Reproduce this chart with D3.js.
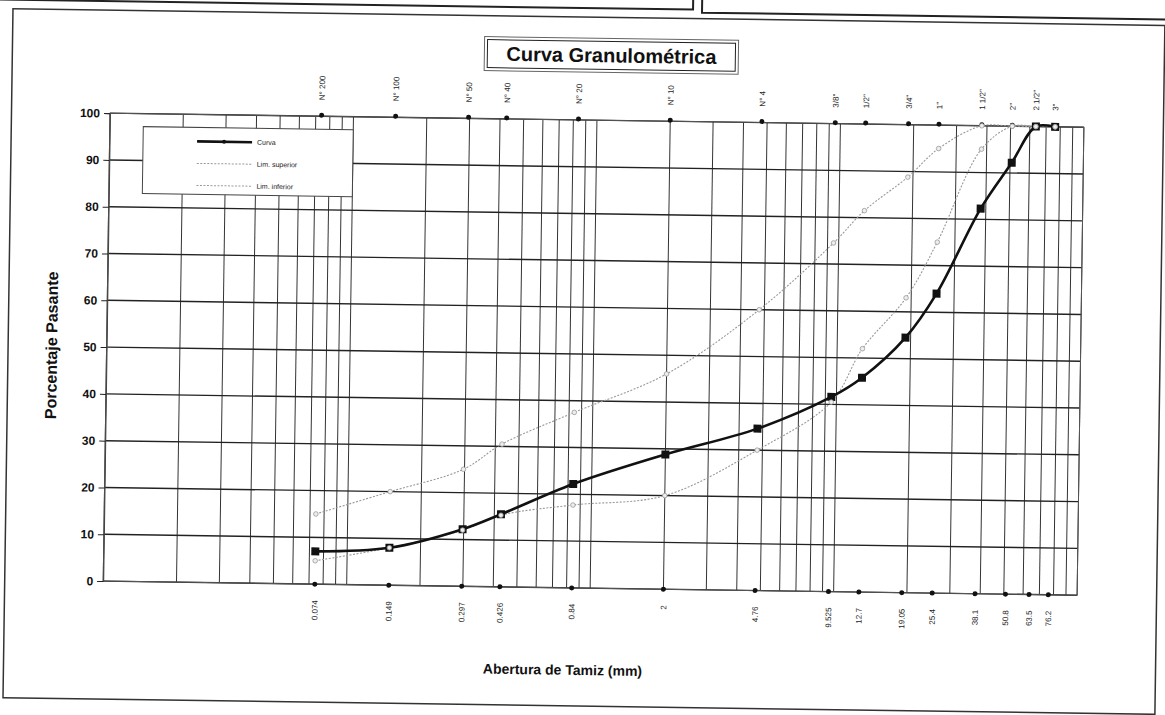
<!DOCTYPE html>
<html>
<head>
<meta charset="utf-8">
<script src="https://cdn.jsdelivr.net/npm/d3@7"></script>
<style>
  body { margin: 0; background: #fff; }
  svg { display: block; font-family: "Liberation Sans", Arial, sans-serif; }
</style>
</head>
<body>
<svg width="1165" height="715"></svg>
<script>
var sieveNames = ["N° 200", "N° 100", "N° 50", "N° 40", "N° 20", "N° 10", "N° 4", "3/8\"", "1/2\"", "3/4\"", "1\"", "1 1/2\"", "2\"", "2 1/2\"", "3\""];
var sieveSizes = [0.074, 0.149, 0.297, 0.426, 0.84, 2, 4.76, 9.525, 12.7, 19.05, 25.4, 38.1, 50.8, 63.5, 76.2];
var sizeLabels = ["0.074", "0.149", "0.297", "0.426", "0.84", "2", "4.76", "9.525", "12.7", "19.05", "25.4", "38.1", "50.8", "63.5", "76.2"];
var curva = [7, 8, 12.2, 15.5, 22.2, 28.8, 34.6, 41.6, 45.8, 54.5, 64, 82.3, 92.2, 100, 100];
var limSuperior = [15, 20, 25, 30.5, 37.5, 46, 60, 74.5, 81.5, 88.8, 95, 100, 100, 100, 100];
var limInferior = [5, 8, 12, 15.3, 17.7, 20, 30, 40.5, 52, 63, 75, 95, 100, 100, 100];
var yTicks = [0, 10, 20, 30, 40, 50, 60, 70, 80, 90, 100];
var legendNames = ["Curva", "Lim. superior", "Lim. inferior"];

var svg = d3.select("svg");
svg.append("rect").attr("width", 1165).attr("height", 715).attr("fill", "#fff");

// the scanned page is slightly tilted
var page = svg.append("g").attr("transform", "rotate(0.83,582,357)");

var x = d3.scaleLog().domain([0.01, 100]).range([106.5, 1080.5]),
    y = d3.scaleLinear().domain([0, 100]).range([588, 120]);

// form frame
page.append("rect").attr("x", 8).attr("y", 17).attr("width", 1152).attr("height", 689)
  .attr("fill", "none").attr("stroke", "#333").attr("stroke-width", 1.5);
page.append("path").attr("d", "M-10,8H688V-10").attr("fill", "none").attr("stroke", "#222").attr("stroke-width", 2);
page.append("path").attr("d", "M697,-10V11H1180").attr("fill", "none").attr("stroke", "#222").attr("stroke-width", 2);

// grid
var grid = page.append("g");
grid.selectAll(".vline").data(x.ticks()).enter().append("line")
  .attr("x1", function(d) { return x(d); }).attr("x2", function(d) { return x(d); })
  .attr("y1", y(100)).attr("y2", y(0))
  .attr("stroke", "#333").attr("stroke-width", 1);
grid.selectAll(".hline").data(yTicks).enter().append("line")
  .attr("x1", x(0.01)).attr("x2", x(100))
  .attr("y1", function(d) { return y(d); }).attr("y2", function(d) { return y(d); })
  .attr("stroke", "#222").attr("stroke-width", 1.4);
page.append("rect").attr("x", x(0.01)).attr("y", y(100))
  .attr("width", x(100) - x(0.01)).attr("height", y(0) - y(100))
  .attr("fill", "none").attr("stroke", "#555").attr("stroke-width", 1);

var yAxis = page.append("g").attr("transform", "translate(" + x(0.01) + ",0)")
  .call(d3.axisLeft(y).tickValues(yTicks).tickSize(6).tickPadding(4));
yAxis.select(".domain").attr("stroke", "#444");
yAxis.selectAll(".tick line").attr("stroke", "#222");
yAxis.selectAll("text").attr("font-size", 12).attr("font-weight", "bold").attr("fill", "#111");

// sieve dots and labels, top and bottom
page.selectAll(".topdot").data(sieveSizes).enter().append("circle")
  .attr("cx", function(d) { return x(d); }).attr("cy", y(100) - 1).attr("r", 2.5).attr("fill", "#111");
page.selectAll(".botdot").data(sieveSizes).enter().append("circle")
  .attr("cx", function(d) { return x(d); }).attr("cy", y(0)).attr("r", 2.5).attr("fill", "#111");
page.selectAll(".toplabel").data(sieveSizes).enter().append("text")
  .attr("transform", function(d) { return "translate(" + (x(d) + 3) + "," + (y(100) - 16) + ") rotate(-90)"; })
  .attr("font-size", 8).attr("fill", "#222")
  .text(function(d, i) { return sieveNames[i]; });
page.selectAll(".botlabel").data(sieveSizes).enter().append("text")
  .attr("transform", function(d) { return "translate(" + (x(d) + 3) + "," + (y(0) + 16) + ") rotate(-90)"; })
  .attr("font-size", 8).attr("fill", "#222").attr("text-anchor", "end")
  .text(function(d, i) { return sizeLabels[i]; });

// series
function seriesPoints(values){
  return sieveSizes.map(function(s, i) { return [x(s), y(values[i])]; });
}
var line = d3.line().curve(d3.curveCatmullRom.alpha(0.5));

[limSuperior, limInferior].forEach(function(values){
  page.append("path").attr("d", line(seriesPoints(values)))
    .attr("fill", "none").attr("stroke", "#999").attr("stroke-width", 1.1).attr("stroke-dasharray", "2,1.5");
});
page.append("path").attr("d", line(seriesPoints(curva)))
  .attr("fill", "none").attr("stroke", "#111").attr("stroke-width", 2.6);
page.selectAll(".curvamark").data(seriesPoints(curva)).enter().append("rect")
  .attr("x", function(d) { return d[0] - 4; }).attr("y", function(d) { return d[1] - 4; })
  .attr("width", 8).attr("height", 8).attr("fill", "#111");
[limSuperior, limInferior].forEach(function(values){
  page.selectAll(null).data(seriesPoints(values)).enter().append("circle")
    .attr("cx", function(d) { return d[0]; }).attr("cy", function(d) { return d[1]; })
    .attr("r", 2.3).attr("fill", "#eee").attr("stroke", "#999").attr("stroke-width", 0.8);
});

// legend
var legend = page.append("g");
legend.append("rect").attr("x", 140).attr("y", 133).attr("width", 210).attr("height", 67)
  .attr("fill", "#fff").attr("stroke", "#444").attr("stroke-width", 1);
legendNames.forEach(function(name, i){
  var ly = 147 + i * 22;
  if(i === 0){
    legend.append("line").attr("x1", 194).attr("x2", 249).attr("y1", ly).attr("y2", ly)
      .attr("stroke", "#111").attr("stroke-width", 2.6);
    legend.append("circle").attr("cx", 221).attr("cy", ly).attr("r", 2).attr("fill", "#111");
  } else {
    legend.append("line").attr("x1", 194).attr("x2", 249).attr("y1", ly).attr("y2", ly)
      .attr("stroke", "#999").attr("stroke-width", 1).attr("stroke-dasharray", "2,1.5");
  }
  legend.append("text").attr("x", 254).attr("y", ly + 2.5)
    .attr("font-size", 7).attr("fill", "#222").text(name);
});

// title box
page.append("rect").attr("x", 480).attr("y", 38).attr("width", 254).attr("height", 34)
  .attr("fill", "#fff").attr("stroke", "#666").attr("stroke-width", 1);
page.append("rect").attr("x", 483).attr("y", 41).attr("width", 248).attr("height", 28)
  .attr("fill", "none").attr("stroke", "#222").attr("stroke-width", 1);
page.append("text").attr("x", 607).attr("y", 62).attr("text-anchor", "middle")
  .attr("font-size", 20).attr("font-weight", "bold").attr("fill", "#111")
  .text("Curva Granulométrica");

// axis titles
page.append("text").attr("x", 567).attr("y", 675).attr("text-anchor", "middle")
  .attr("font-size", 14).attr("font-weight", "bold").attr("fill", "#111")
  .text("Abertura de Tamiz (mm)");
page.append("text").attr("transform", "translate(57,353) rotate(-90)").attr("text-anchor", "middle")
  .attr("font-size", 16).attr("font-weight", "bold").attr("fill", "#111")
  .text("Porcentaje Pasante");
</script>
</body>
</html>
